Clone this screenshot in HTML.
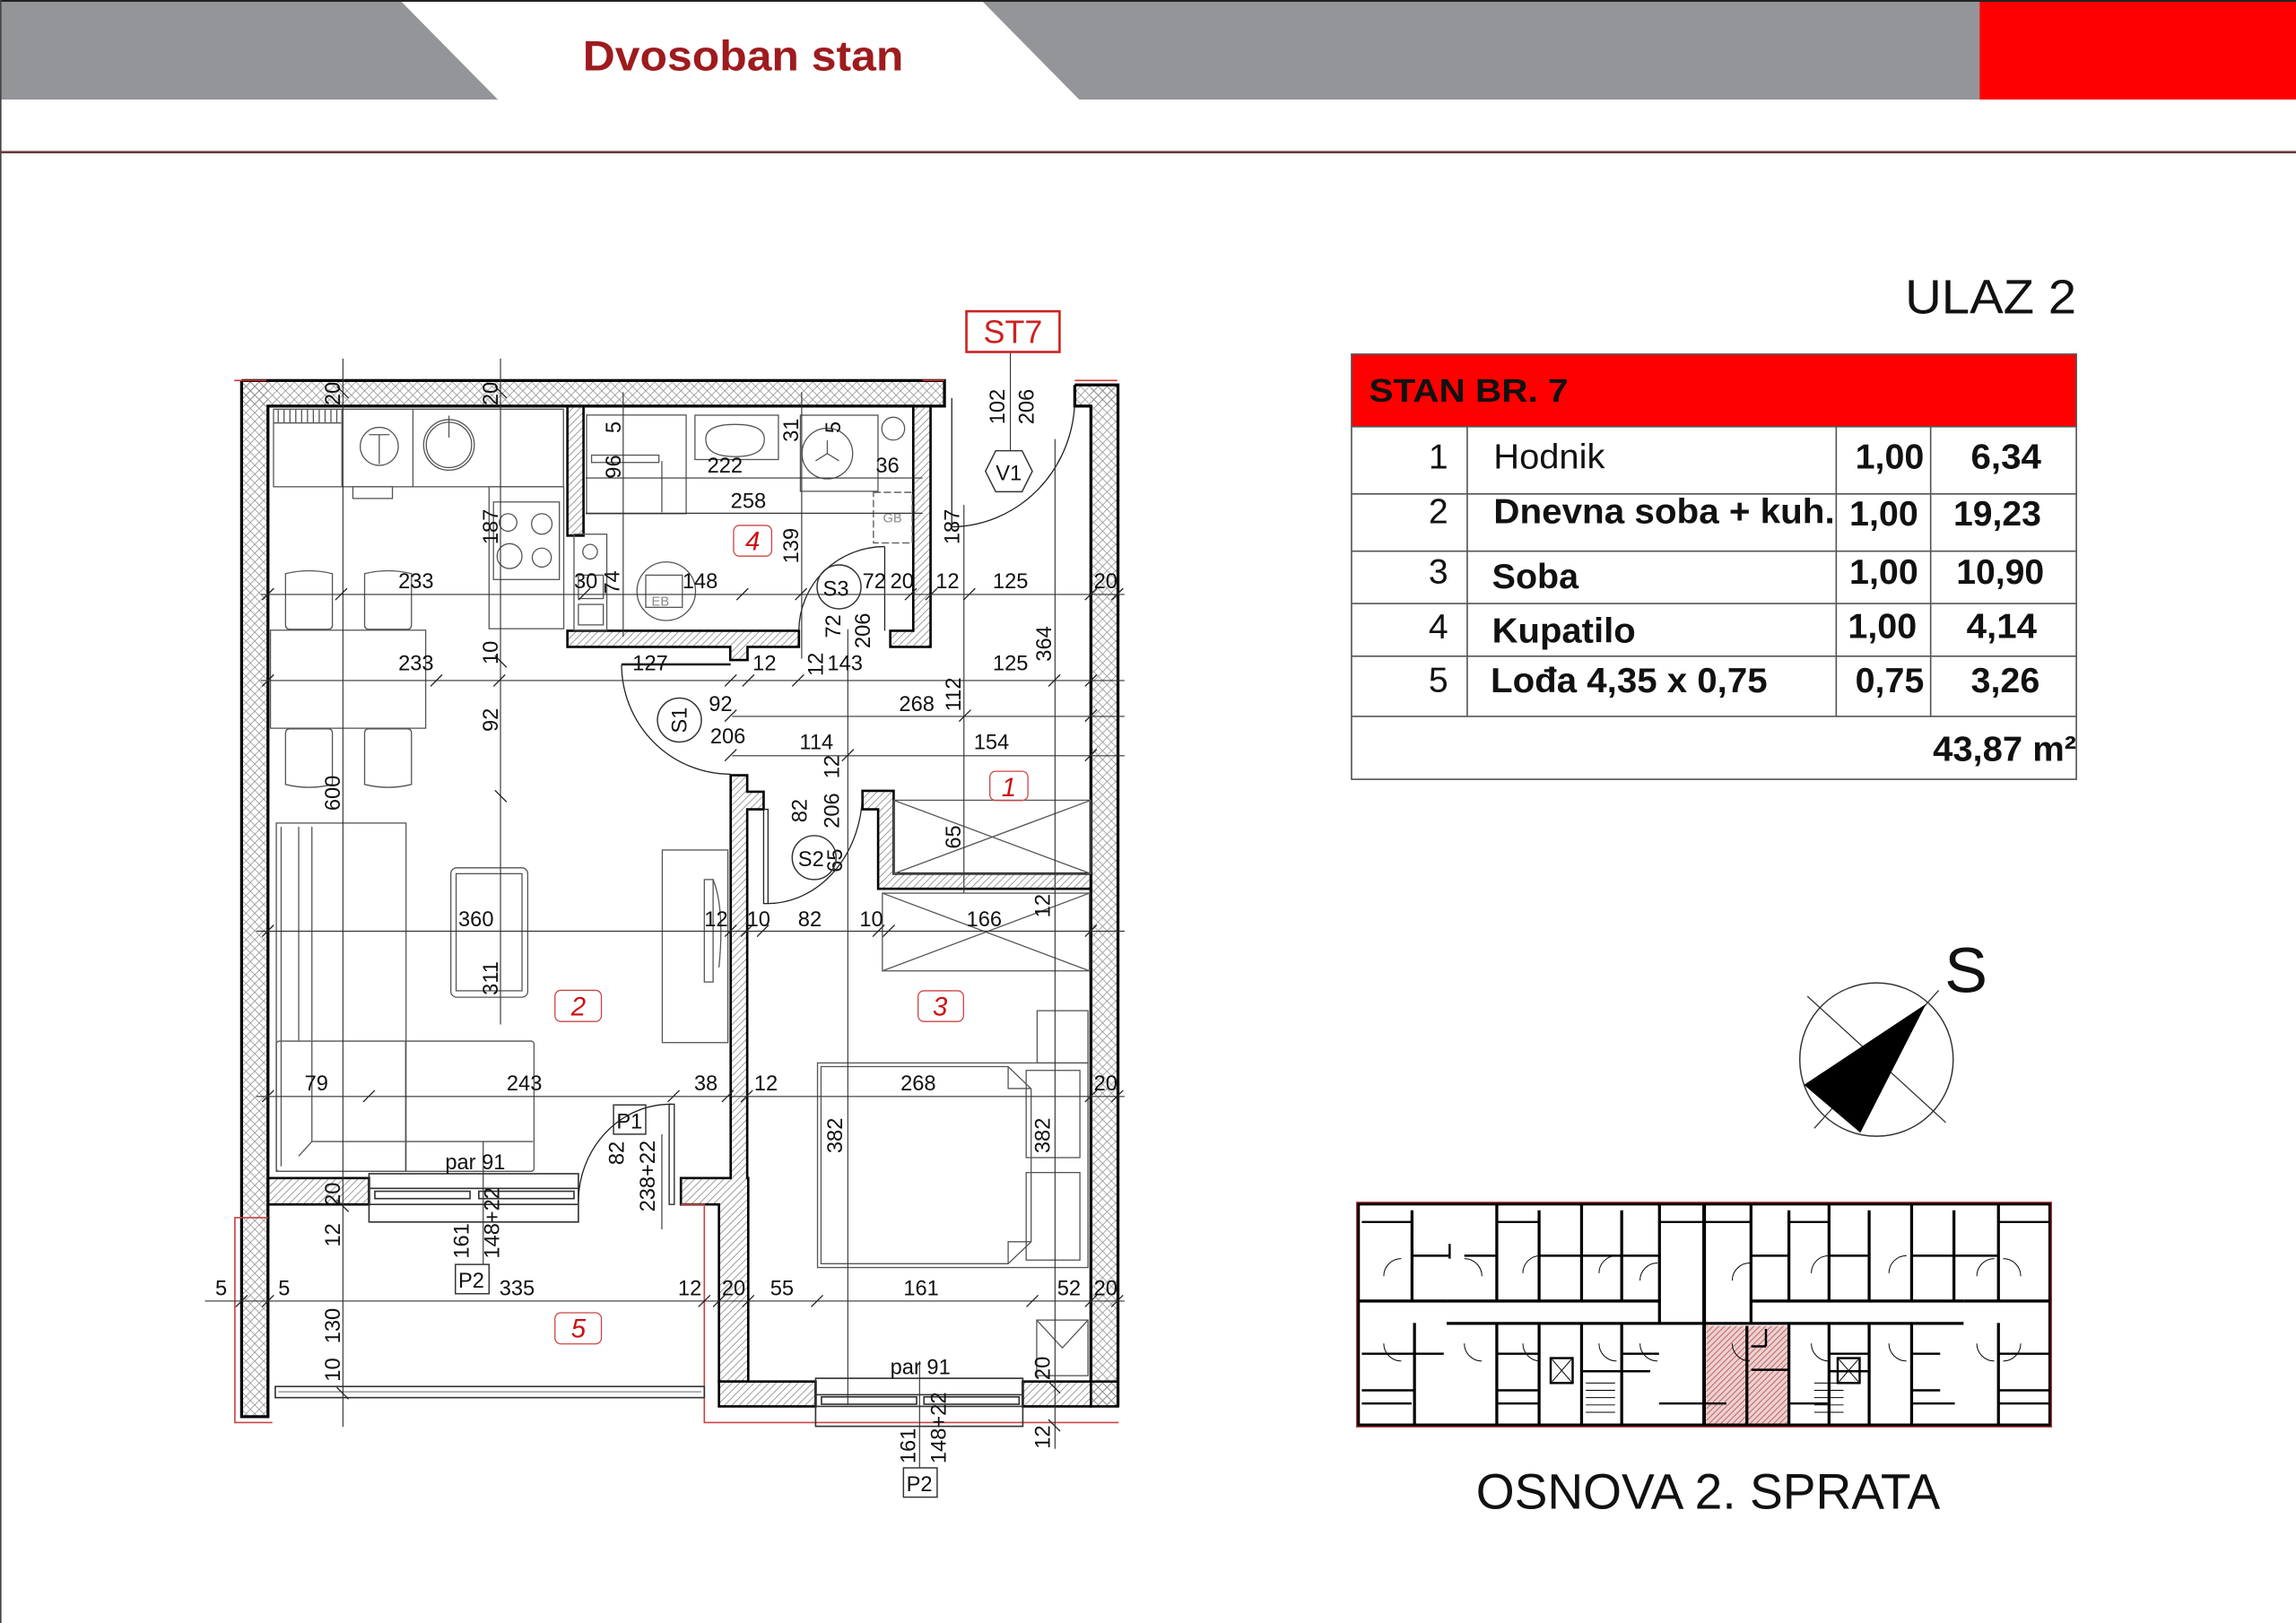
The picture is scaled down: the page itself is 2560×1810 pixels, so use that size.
<!DOCTYPE html>
<html><head><meta charset="utf-8"><style>
html,body{margin:0;padding:0;background:#fff;}
svg{display:block;}
text{font-family:"Liberation Sans",Arial,sans-serif;}
</style></head><body>
<svg width="2560" height="1810" viewBox="0 0 1568 1109" preserveAspectRatio="none" xmlns="http://www.w3.org/2000/svg">
<defs>
<pattern id="xh" width="6" height="6" patternUnits="userSpaceOnUse"><path d="M0,0L6,6M6,0L0,6" stroke="#888" stroke-width="0.45" fill="none"/></pattern>
<pattern id="dh" width="5" height="5" patternUnits="userSpaceOnUse"><path d="M-1,1L1,-1M0,5L5,0M4,6L6,4" stroke="#777" stroke-width="0.45" fill="none"/></pattern>
<pattern id="rh" width="4" height="4" patternUnits="userSpaceOnUse"><path d="M-1,1L1,-1M0,4L4,0M3,5L5,3" stroke="#a33" stroke-width="0.5" fill="none"/></pattern>
</defs>
<rect width="1568" height="1109" fill="#fff"/>
<!-- header -->
<rect x="0" y="0" width="1568" height="68" fill="#939598"/>
<polygon points="273,0 670,0 737,68 340,68" fill="#fff"/>
<rect x="1352" y="0" width="216" height="68" fill="#ff0000"/>
<line x1="0" y1="0.6" x2="1568" y2="0.6" stroke="#222" stroke-width="1.2"/>
<line x1="0.5" y1="0" x2="0.5" y2="1109" stroke="#444" stroke-width="1"/>
<text x="398" y="48" font-size="29" font-weight="bold" fill="#9e1b1e" textLength="219" lengthAdjust="spacingAndGlyphs">Dvosoban  stan</text>
<line x1="0" y1="104" x2="1568" y2="104" stroke="#6b3b3b" stroke-width="1.6"/>

<!-- ULAZ 2 -->
<text x="1301" y="214" font-size="33" fill="#111" textLength="117" lengthAdjust="spacingAndGlyphs">ULAZ 2</text>

<!-- table -->
<rect x="923" y="242" width="495" height="49.5" fill="#ff0000"/>
<text x="935" y="274.6" font-size="22" font-weight="bold" fill="#111" textLength="136" lengthAdjust="spacingAndGlyphs">STAN BR. 7</text>
<g stroke="#555" stroke-width="1" fill="none">
<rect x="923" y="242" width="495" height="290.5"/>
<line x1="923" y1="291.5" x2="1418" y2="291.5"/>
<line x1="923" y1="337.5" x2="1418" y2="337.5"/>
<line x1="923" y1="376.6" x2="1418" y2="376.6"/>
<line x1="923" y1="412.4" x2="1418" y2="412.4"/>
<line x1="923" y1="448.4" x2="1418" y2="448.4"/>
<line x1="923" y1="489.5" x2="1418" y2="489.5"/>
<line x1="1002" y1="291.5" x2="1002" y2="489.5"/>
<line x1="1254" y1="291.5" x2="1254" y2="489.5"/>
<line x1="1318.5" y1="291.5" x2="1318.5" y2="489.5"/>
</g>
<g font-size="24" fill="#111">
<text x="989" y="320" text-anchor="end">1</text>
<text x="989" y="357.6" text-anchor="end">2</text>
<text x="989" y="398.7" text-anchor="end">3</text>
<text x="989" y="436.2" text-anchor="end">4</text>
<text x="989" y="472.6" text-anchor="end">5</text>
<text x="1020" y="320" textLength="76" lengthAdjust="spacingAndGlyphs">Hodnik</text>
<g font-weight="bold">
<text x="1020" y="357.6" textLength="233" lengthAdjust="spacingAndGlyphs">Dnevna soba + kuh.</text>
<text x="1019" y="402" textLength="59" lengthAdjust="spacingAndGlyphs">Soba</text>
<text x="1019" y="439" textLength="98" lengthAdjust="spacingAndGlyphs">Kupatilo</text>
<text x="1018" y="473" textLength="189" lengthAdjust="spacingAndGlyphs">Lođa 4,35 x 0,75</text>
<text x="1267" y="320" textLength="47" lengthAdjust="spacingAndGlyphs">1,00</text>
<text x="1263" y="359" textLength="47" lengthAdjust="spacingAndGlyphs">1,00</text>
<text x="1263" y="399" textLength="47" lengthAdjust="spacingAndGlyphs">1,00</text>
<text x="1262" y="436" textLength="47" lengthAdjust="spacingAndGlyphs">1,00</text>
<text x="1267" y="473" textLength="47" lengthAdjust="spacingAndGlyphs">0,75</text>
<text x="1346" y="320" textLength="48" lengthAdjust="spacingAndGlyphs">6,34</text>
<text x="1334" y="359" textLength="60" lengthAdjust="spacingAndGlyphs">19,23</text>
<text x="1336" y="399" textLength="60" lengthAdjust="spacingAndGlyphs">10,90</text>
<text x="1343" y="436" textLength="48" lengthAdjust="spacingAndGlyphs">4,14</text>
<text x="1346" y="473" textLength="47" lengthAdjust="spacingAndGlyphs">3,26</text>
<text x="1320" y="520" textLength="98" lengthAdjust="spacingAndGlyphs">43,87 m²</text>
</g>
</g>

<!-- ===== FLOOR PLAN ===== -->
<g fill="url(#xh)" stroke="none">
<rect x="165" y="260" width="18" height="708"/>
<rect x="165" y="260" width="480" height="17.5"/>
<rect x="734" y="263" width="29.5" height="14.5"/>
<rect x="745" y="263" width="18.5" height="698"/>
</g>
<g fill="none" stroke="#000" stroke-width="2">
<path d="M165,260 L614,260"/>
<path d="M614,260 L645,260 L645,277.5 L183,277.5 L183,968 L165,968 L165,260"/>
<path d="M734,263 L763.5,263 L763.5,961"/>
<path d="M734,263 L734,277.5 L745,277.5 L745,944"/>
</g>
<line x1="160" y1="260" x2="182" y2="260" stroke="#c33" stroke-width="1"/>
<line x1="630" y1="259.9" x2="645" y2="259.9" stroke="#c33" stroke-width="1"/>
<line x1="734" y1="260" x2="763" y2="260" stroke="#c33" stroke-width="1"/>

<g fill="url(#dh)" stroke="#000" stroke-width="1.6">
<rect x="387.5" y="277.5" width="11" height="88.5"/>
<path d="M387.5,431 L545.6,431 L545.6,442 L510.5,442 L510.5,451 L498.7,451 L498.7,442 L387.5,442 Z"/>
<path d="M623.7,277.5 L635.5,277.5 L635.5,442 L608,442 L608,431 L623.7,431 Z"/>
<path d="M499,529.7 L510.3,529.7 L510.3,541 L521.5,541 L521.5,553 L510.3,553 L510.3,805 L511,805 L511,944 L491,944 L491,823 L465,823 L465,805 L499,805 Z"/>
<path d="M589,540.4 L610.3,540.4 L610.3,597 L745,597 L745,607.3 L599.7,607.3 L599.7,553 L589,553 Z"/>
<rect x="183" y="805" width="69" height="18"/>
<path d="M491,944 L557,944 L557,961 L491,961 Z"/>
<path d="M698.5,944 L745,944 L745,961 L698.5,961 Z"/>
</g>
<g fill="url(#xh)" stroke="#000" stroke-width="1.6"><rect x="745" y="944" width="18.5" height="17"/></g>

<g fill="none" stroke="#c44" stroke-width="1">
<path d="M183,832 L160.4,832 L160.4,972 L186,972"/>
<path d="M465,823 L481,823 L481,972 L764,972"/>
</g>
<rect x="188" y="947.4" width="293" height="7.6" fill="none" stroke="#333" stroke-width="1"/>
<line x1="190" y1="951" x2="479" y2="951" stroke="#666" stroke-width="0.6"/>

<g fill="none" stroke="#333" stroke-width="1">
<rect x="252" y="802" width="143" height="33"/>
<line x1="252" y1="812" x2="395" y2="812"/>
<line x1="252" y1="823" x2="395" y2="823"/>
<rect x="256" y="814" width="65" height="5"/><rect x="327" y="814" width="65" height="5"/>
<rect x="557" y="941.8" width="141.5" height="32.8"/>
<line x1="557" y1="953" x2="698.5" y2="953"/>
<line x1="557" y1="961" x2="698.5" y2="961"/>
<rect x="561" y="954.5" width="65" height="5"/><rect x="631" y="954.5" width="65" height="5"/>
</g>

<g fill="none" stroke="#222" stroke-width="0.8">
<line x1="424.5" y1="454" x2="499" y2="454" stroke-width="1.6"/>
<path d="M424.5,454 A74.5,75 0 0 0 499,529"/>
<rect x="521.5" y="553" width="3" height="64.4"/>
<path d="M524.4,617.4 A65,76 0 0 0 589,541"/>
<line x1="604.2" y1="373.5" x2="604.2" y2="431"/>
<path d="M545.6,431 A58.6,57.5 0 0 1 604.2,373.5"/>
<rect x="457" y="754.5" width="3.5" height="68.5"/>
<path d="M395,821 A63,67 0 0 1 458.6,754.5"/>
<line x1="650" y1="272" x2="650" y2="360"/>
<path d="M650,360 A85,88 0 0 0 734,272"/>
</g>

<g fill="none" stroke="#555" stroke-width="0.8">
<rect x="186.8" y="279.6" width="198" height="53"/>
<line x1="233.5" y1="279.6" x2="233.5" y2="332.6"/>
<line x1="282" y1="279.6" x2="282" y2="332.6"/>
<line x1="187" y1="289" x2="233" y2="289"/>
<path d="M190,280v9M194,280v9M198,280v9M202,280v9M206,280v9M210,280v9M214,280v9M218,280v9M222,280v9M226,280v9M230,280v9"/>
<circle cx="259" cy="305" r="13"/><path d="M252,297h14M259,297v20"/>
<circle cx="306.6" cy="304" r="17.3"/><circle cx="306.6" cy="304" r="15.5"/>
<line x1="306.6" y1="284" x2="306.6" y2="299"/>
<rect x="241" y="332.6" width="27" height="8"/>
<rect x="334" y="332.6" width="51" height="97"/>
<rect x="337" y="343" width="45" height="53"/>
<circle cx="347" cy="357" r="6"/><circle cx="370" cy="358" r="7"/><circle cx="348" cy="380" r="8.5"/><circle cx="370" cy="381" r="6.5"/>
<rect x="184.7" y="430.6" width="106" height="67"/>
<path d="M195,392 q16,-4 32,0 v35 q0,3 -3,3 h-26 q-3,0 -3,-3 Z"/>
<path d="M249,392 q16,-4 32,0 v35 q0,3 -3,3 h-26 q-3,0 -3,-3 Z"/>
<path d="M195,536 q16,4 32,0 v-35 q0,-3 -3,-3 h-26 q-3,0 -3,3 Z"/>
<path d="M249,536 q16,4 32,0 v-35 q0,-3 -3,-3 h-26 q-3,0 -3,3 Z"/>
<rect x="400.6" y="283.6" width="68" height="67.4"/>
<rect x="404" y="311" width="46" height="5"/>
<line x1="452" y1="315" x2="452" y2="350"/>
<rect x="474.6" y="283.7" width="57" height="30.3"/>
<path d="M482,300 q0,-10 20,-10 q20,0 20,10 q0,12 -20,12 q-20,0 -20,-12Z"/>
<rect x="546.6" y="283.7" width="53" height="52"/>
<circle cx="565" cy="309.9" r="17.3"/>
<path d="M565,309.9v-9M565,309.9l-8,5M565,309.9l8,5"/>
<circle cx="610" cy="292.9" r="7.8"/>
<rect x="596.5" y="336.4" width="26.5" height="34.6" stroke-dasharray="5,2"/>
<text x="603" y="357" font-size="9" fill="#888" stroke="none">GB</text>
<circle cx="455" cy="404" r="20"/>
<rect x="441" y="393" width="25" height="22"/>
<text x="445" y="414" font-size="9" fill="#888" stroke="none">EB</text>
<rect x="392" y="365" width="22.4" height="65.7"/>
<circle cx="403" cy="377" r="5"/>
<rect x="395" y="393" width="17" height="16"/><rect x="395" y="413" width="17" height="14"/>
<rect x="188.7" y="562.4" width="88.6" height="238"/>
<line x1="192" y1="565" x2="192" y2="797"/>
<line x1="204" y1="565" x2="204" y2="711"/>
<line x1="213" y1="565" x2="213" y2="711"/>
<rect x="188.7" y="711.4" width="176" height="89" rx="2"/>
<path d="M213,711 L213,780 L364,780 M204,790 L213,780 M277,711 L277,800"/>
<rect x="307.9" y="593" width="52.5" height="88.4" rx="4"/>
<rect x="311.5" y="597" width="45" height="80"/>
<rect x="452.3" y="580.8" width="44.8" height="131.6"/>
<rect x="481" y="601" width="6" height="70"/>
<path d="M487,601 q8,20 4,60"/>
<rect x="558.3" y="726.3" width="184.7" height="139.8"/>
<path d="M560.7,728.8 L688.5,728.8 L704.2,744 L704.2,848.5 L688.5,863.5 L560.7,863.5 Z"/>
<path d="M688.5,728.8 v15 h15.7 M688.5,863.5 v-15 h15.7"/>
<rect x="700.8" y="731.4" width="36.7" height="59.6"/>
<rect x="700.8" y="801.2" width="36.7" height="59.8"/>
<rect x="708.3" y="690.6" width="34.7" height="35.7"/>
<rect x="708" y="902" width="35" height="38"/>
<path d="M708,902 L725.5,921 L743,902"/>
<rect x="610.3" y="546.8" width="134.7" height="50.2"/>
<path d="M610.3,546.8 L745,597 M745,546.8 L610.3,597"/>
<rect x="602.6" y="610.3" width="141.4" height="53.1"/>
<path d="M602.6,610.3 L744,663.4 M744,610.3 L602.6,663.4"/>
</g>

<g stroke="#333" stroke-width="0.7" fill="none">
<line x1="178" y1="406.2" x2="768" y2="406.2"/>
<line x1="178" y1="465" x2="768" y2="465"/>
<line x1="400" y1="326.6" x2="630" y2="326.6"/>
<line x1="400" y1="350.7" x2="630" y2="350.7"/>
<line x1="500" y1="489.5" x2="768" y2="489.5"/>
<line x1="500" y1="516.4" x2="768" y2="516.4"/>
<line x1="175" y1="636.3" x2="768" y2="636.3"/>
<line x1="175" y1="749.2" x2="768" y2="749.2"/>
<line x1="140" y1="889" x2="768" y2="889"/>
<line x1="234.2" y1="245" x2="234.2" y2="975"/>
<line x1="341.8" y1="245" x2="341.8" y2="700"/>
<line x1="425.6" y1="268" x2="425.6" y2="435"/>
<line x1="547.5" y1="268" x2="547.5" y2="450"/>
<line x1="579" y1="430" x2="579" y2="960"/>
<line x1="658.3" y1="345" x2="658.3" y2="610"/>
<line x1="720.5" y1="300" x2="720.5" y2="990"/>
<line x1="690" y1="240.5" x2="690" y2="307.8"/>
<line x1="330" y1="780" x2="330" y2="864"/>
<line x1="452" y1="775" x2="452" y2="840"/>
<line x1="628" y1="930" x2="628" y2="1003"/>
</g>
<g stroke="#222" stroke-width="0.8">
<path d="M179,410l8,-8M229,410l8,-8M395,410l8,-8M503,410l8,-8M543,410l8,-8M618,410l8,-8M632,410l8,-8M658,410l8,-8M741,410l8,-8M759,410l8,-8"/>
<path d="M179,469l8,-8M294,469l8,-8M337,469l8,-8M495,469l8,-8M507,469l8,-8M541,469l8,-8M716,469l8,-8M741,469l8,-8"/>
<path d="M495,493l8,-8M655,493l8,-8M741,493l8,-8M495,520l8,-8M575,520l8,-8M741,520l8,-8"/>
<path d="M179,640l8,-8M495,640l8,-8M506,640l8,-8M517,640l8,-8M596,640l8,-8M603,640l8,-8M741,640l8,-8"/>
<path d="M179,753l8,-8M248,753l8,-8M456,753l8,-8M493,753l8,-8M506,753l8,-8M741,753l8,-8M759,753l8,-8"/>
<path d="M161,893l8,-8M179,893l8,-8M477,893l8,-8M487,893l8,-8M507,893l8,-8M554,893l8,-8M701,893l8,-8M741,893l8,-8M759,893l8,-8"/>
<path d="M230,264l8,8M338,264l8,8M230,820l8,8M230,948l8,8M338,448l8,8M338,540l8,8M716,944l8,8M716,970l8,8"/>
</g>

<g font-size="14.5" fill="#111">
<text x="272" y="402">233</text><text x="392" y="402">30</text><text x="466" y="402">148</text>
<text x="589" y="402">72</text><text x="608" y="402">20</text><text x="639" y="402">12</text><text x="678" y="402">125</text><text x="747" y="402">20</text>
<text x="272" y="458">233</text><text x="432" y="458">127</text><text x="514" y="458">12</text><text x="565" y="458">143</text><text x="678" y="458">125</text>
<text x="484" y="486">92</text><text x="614" y="486">268</text>
<text x="485" y="508">206</text><text x="546" y="512">114</text><text x="665" y="512">154</text>
<text x="483" y="323">222</text>
<text x="499" y="347">258</text>
<text x="598" y="323">36</text>
<text x="313" y="633">360</text><text x="481" y="633">12</text><text x="510" y="633">10</text><text x="545" y="633">82</text><text x="587" y="633">10</text><text x="660" y="633">166</text>
<text x="208" y="745">79</text><text x="346" y="745">243</text><text x="474" y="745">38</text><text x="515" y="745">12</text><text x="615" y="745">268</text><text x="747" y="745">20</text>
<text x="304" y="799">par 91</text><text x="608" y="939">par 91</text>
<text x="147" y="885">5</text><text x="190" y="885">5</text><text x="341" y="885">335</text><text x="463" y="885">12</text><text x="493" y="885">20</text><text x="526" y="885">55</text><text x="617" y="885">161</text><text x="722" y="885">52</text><text x="747" y="885">20</text>
</g>
<g font-size="14.5" fill="#111">
<text transform="translate(232,277) rotate(-90)">20</text>
<text transform="translate(340,277) rotate(-90)">20</text>
<text transform="translate(340,372) rotate(-90)">187</text>
<text transform="translate(340,454) rotate(-90)">10</text>
<text transform="translate(340,500) rotate(-90)">92</text>
<text transform="translate(232,554) rotate(-90)">600</text>
<text transform="translate(340,680) rotate(-90)">311</text>
<text transform="translate(232,824) rotate(-90)">20</text>
<text transform="translate(232,852) rotate(-90)">12</text>
<text transform="translate(232,918) rotate(-90)">130</text>
<text transform="translate(232,944) rotate(-90)">10</text>
<text transform="translate(424,296) rotate(-90)">5</text>
<text transform="translate(424,327) rotate(-90)">96</text>
<text transform="translate(423,406) rotate(-90)">74</text>
<text transform="translate(545,302) rotate(-90)">31</text>
<text transform="translate(574,296) rotate(-90)">5</text>
<text transform="translate(545,385) rotate(-90)">139</text>
<text transform="translate(574,436) rotate(-90)">72</text>
<text transform="translate(594,443) rotate(-90)">206</text>
<text transform="translate(562,462) rotate(-90)">12</text>
<text transform="translate(655,372) rotate(-90)">187</text>
<text transform="translate(656,486) rotate(-90)">112</text>
<text transform="translate(656,580) rotate(-90)">65</text>
<text transform="translate(686,290) rotate(-90)">102</text>
<text transform="translate(706,290) rotate(-90)">206</text>
<text transform="translate(718,452) rotate(-90)">364</text>
<text transform="translate(551,562) rotate(-90)">82</text>
<text transform="translate(573,566) rotate(-90)">206</text>
<text transform="translate(573,532) rotate(-90)">12</text>
<text transform="translate(575,596) rotate(-90)">65</text>
<text transform="translate(717,627) rotate(-90)">12</text>
<text transform="translate(575,788) rotate(-90)">382</text>
<text transform="translate(717,788) rotate(-90)">382</text>
<text transform="translate(426,796) rotate(-90)">82</text>
<text transform="translate(447,828) rotate(-90)">238+22</text>
<text transform="translate(320,860) rotate(-90)">161</text>
<text transform="translate(341,860) rotate(-90)">148+22</text>
<text transform="translate(717,943) rotate(-90)">20</text>
<text transform="translate(717,990) rotate(-90)">12</text>
<text transform="translate(625,1000) rotate(-90)">161</text>
<text transform="translate(646,1000) rotate(-90)">148+22</text>
</g>

<g fill="none" stroke="#333" stroke-width="0.9">
<circle cx="464" cy="492" r="15"/>
<circle cx="556" cy="586" r="15"/>
<circle cx="573" cy="401" r="15"/>
<polygon points="680,308 698,308 705,322 698,336 680,336 673,322"/>
<rect x="419" y="755" width="22" height="20"/>
<rect x="311" y="864" width="23" height="20"/>
<rect x="617" y="1003" width="23" height="20"/>
</g>
<g font-size="14.5" fill="#111">
<text transform="translate(469,501) rotate(-90)">S1</text>
<text x="545" y="592">S2</text>
<text x="562" y="407">S3</text>
<text x="680" y="328">V1</text>
<text x="421" y="771">P1</text>
<text x="313" y="880">P2</text>
<text x="619" y="1019">P2</text>
</g>
<rect x="660" y="212.7" width="63.6" height="27.8" fill="#fff" stroke="#c22" stroke-width="1.6"/>
<text x="691.8" y="234.5" font-size="22" fill="#c22" text-anchor="middle">ST7</text>

<g fill="none" stroke="#c44" stroke-width="0.8">
<rect x="501" y="359" width="26" height="21" rx="4"/>
<rect x="676" y="527" width="26" height="20" rx="4"/>
<rect x="379" y="676.7" width="31.7" height="21.3" rx="4"/>
<rect x="627" y="677" width="31" height="21" rx="4"/>
<rect x="379" y="897" width="31.7" height="21.3" rx="4"/>
</g>
<g font-size="18" fill="#c11" font-style="italic" text-anchor="middle">
<text x="514" y="376">4</text><text x="689" y="544">1</text><text x="395" y="694">2</text><text x="642" y="694">3</text><text x="395" y="914">5</text>
</g>

<g>
<circle cx="1281.5" cy="724" r="52.4" fill="none" stroke="#333" stroke-width="0.9"/>
<line x1="1234.3" y1="680.7" x2="1328.8" y2="767" stroke="#333" stroke-width="0.8"/>
<line x1="1324" y1="676.7" x2="1239" y2="771" stroke="#333" stroke-width="0.8"/>
<polygon points="1315.4,685.9 1232,741.3 1270.5,774" fill="#000"/>
<text x="1328" y="678" font-size="44" fill="#111">S</text>
</g>

<g>
<rect x="1165.4" y="906" width="56" height="68.6" fill="url(#rh)"/>
<rect x="1165.4" y="906" width="56" height="68.6" fill="#c77" opacity="0.35"/>
<g fill="none" stroke="#000" stroke-width="2">
<rect x="927.7" y="822.7" width="472.2" height="151"/>
<line x1="964.3" y1="827" x2="964.3" y2="889"/>
<line x1="1022.2" y1="822.7" x2="1022.2" y2="889"/>
<line x1="1051.1" y1="827" x2="1051.1" y2="889"/>
<line x1="1080.1" y1="822.7" x2="1080.1" y2="889"/>
<line x1="1107.5" y1="827" x2="1107.5" y2="889"/>
<line x1="1133.3" y1="822.7" x2="1133.3" y2="904"/>
<line x1="1163.8" y1="822.7" x2="1163.8" y2="973.7" stroke-width="2.5"/>
<line x1="1195.8" y1="822.7" x2="1195.8" y2="904"/>
<line x1="1221.7" y1="827" x2="1221.7" y2="889"/>
<line x1="1249.1" y1="822.7" x2="1249.1" y2="889"/>
<line x1="1276.5" y1="827" x2="1276.5" y2="889"/>
<line x1="1305.5" y1="822.7" x2="1305.5" y2="889"/>
<line x1="1334.4" y1="827" x2="1334.4" y2="889"/>
<line x1="1364.8" y1="822.7" x2="1364.8" y2="889"/>
<line x1="988" y1="889" x2="1133" y2="889"/>
<line x1="1196" y1="889" x2="1341" y2="889"/>
<line x1="988" y1="904.3" x2="1341" y2="904.3"/>
<line x1="927.7" y1="889" x2="988" y2="889"/>
<line x1="1341" y1="889" x2="1399" y2="889"/>
<line x1="966" y1="904" x2="966" y2="973"/>
<line x1="1022.2" y1="904" x2="1022.2" y2="973"/>
<line x1="1051.1" y1="904" x2="1051.1" y2="973"/>
<line x1="1080.1" y1="904" x2="1080.1" y2="973"/>
<line x1="1107.5" y1="904" x2="1107.5" y2="973"/>
<line x1="1221.7" y1="904" x2="1221.7" y2="973"/>
<line x1="1249.1" y1="904" x2="1249.1" y2="973"/>
<line x1="1276.5" y1="904" x2="1276.5" y2="973"/>
<line x1="1305.5" y1="904" x2="1305.5" y2="973"/>
<line x1="1364.8" y1="904" x2="1364.8" y2="973"/>
<line x1="1193" y1="906" x2="1193" y2="973"/>
</g>
<g fill="none" stroke="#000" stroke-width="1.5">
<path d="M964,858 h26 M990,850 v10 M1000,858 h22 M1051,858 h29 M1080,858 h27 M1107,858 h26 M1196,858 h25 M1249,858 h27 M1305,858 h30 M1364,858 h-30"/>
<path d="M930,835 h34 M1022,835 h29 M1133,835 h30 M1164,835 h32 M1221,835 h28 M1364,835 h35"/>
<path d="M930,925 h36 M966,925 h20 M1022,925 h29 M1107,925 h26 M1249,925 h27 M1305,925 h20 M1364,925 h35"/>
<path d="M930,950 h36 M1022,950 h29 M1080,937 h27 M1107,937 h20 M1249,937 h27 M1305,950 h20 M1364,950 h35"/>
<path d="M930,959 h34 M1022,959 h29 M1133,959 h30 M1164,959 h15 M1196,920 h10 M1206,920 v-12 M1196,936 h25 M1221,959 h27 M1305,959 h30 M1364,959 h35"/>
<rect x="1059" y="928" width="15" height="17"/><rect x="1255" y="928" width="15" height="17"/>
</g>
<g fill="none" stroke="#000" stroke-width="0.6">
<path d="M1060,929 l13,15 M1073,929 l-13,15 M1256,929 l13,15 M1269,929 l-13,15"/>
<path d="M1083,945 h20 M1083,950 h20 M1083,955 h20 M1083,960 h20 M1083,965 h20 M1239,945 h20 M1239,950 h20 M1239,955 h20 M1239,960 h20 M1239,965 h20"/>
<path d="M945,872 a12,12 0 0 1 12,-12 M1012,872 a12,12 0 0 0 -12,-12 M1040,870 a12,12 0 0 1 12,-12 M1092,870 a12,12 0 0 1 12,-12 M1120,875 a12,12 0 0 1 12,-12 M1183,875 a12,12 0 0 1 12,-12 M1237,870 a12,12 0 0 1 12,-12 M1290,870 a12,12 0 0 1 12,-12 M1350,872 a12,12 0 0 1 12,-12 M1380,872 a12,12 0 0 0 -12,-12"/>
<path d="M945,918 a12,12 0 0 0 12,12 M1000,918 a12,12 0 0 0 12,12 M1040,918 a12,12 0 0 0 12,12 M1092,918 a12,12 0 0 0 12,12 M1120,918 a12,12 0 0 0 12,12 M1183,918 a12,12 0 0 0 12,12 M1237,918 a12,12 0 0 0 12,12 M1290,918 a12,12 0 0 0 12,12 M1350,918 a12,12 0 0 0 12,12 M1380,918 a12,12 0 0 1 -12,12"/>
</g>
<g fill="none" stroke="#a33" stroke-width="0.8"><rect x="926.5" y="821.5" width="474.5" height="153.5"/></g>
</g>
<text x="1008" y="1031" font-size="34" fill="#111" textLength="317" lengthAdjust="spacingAndGlyphs">OSNOVA 2. SPRATA</text>
</svg>
</body></html>
